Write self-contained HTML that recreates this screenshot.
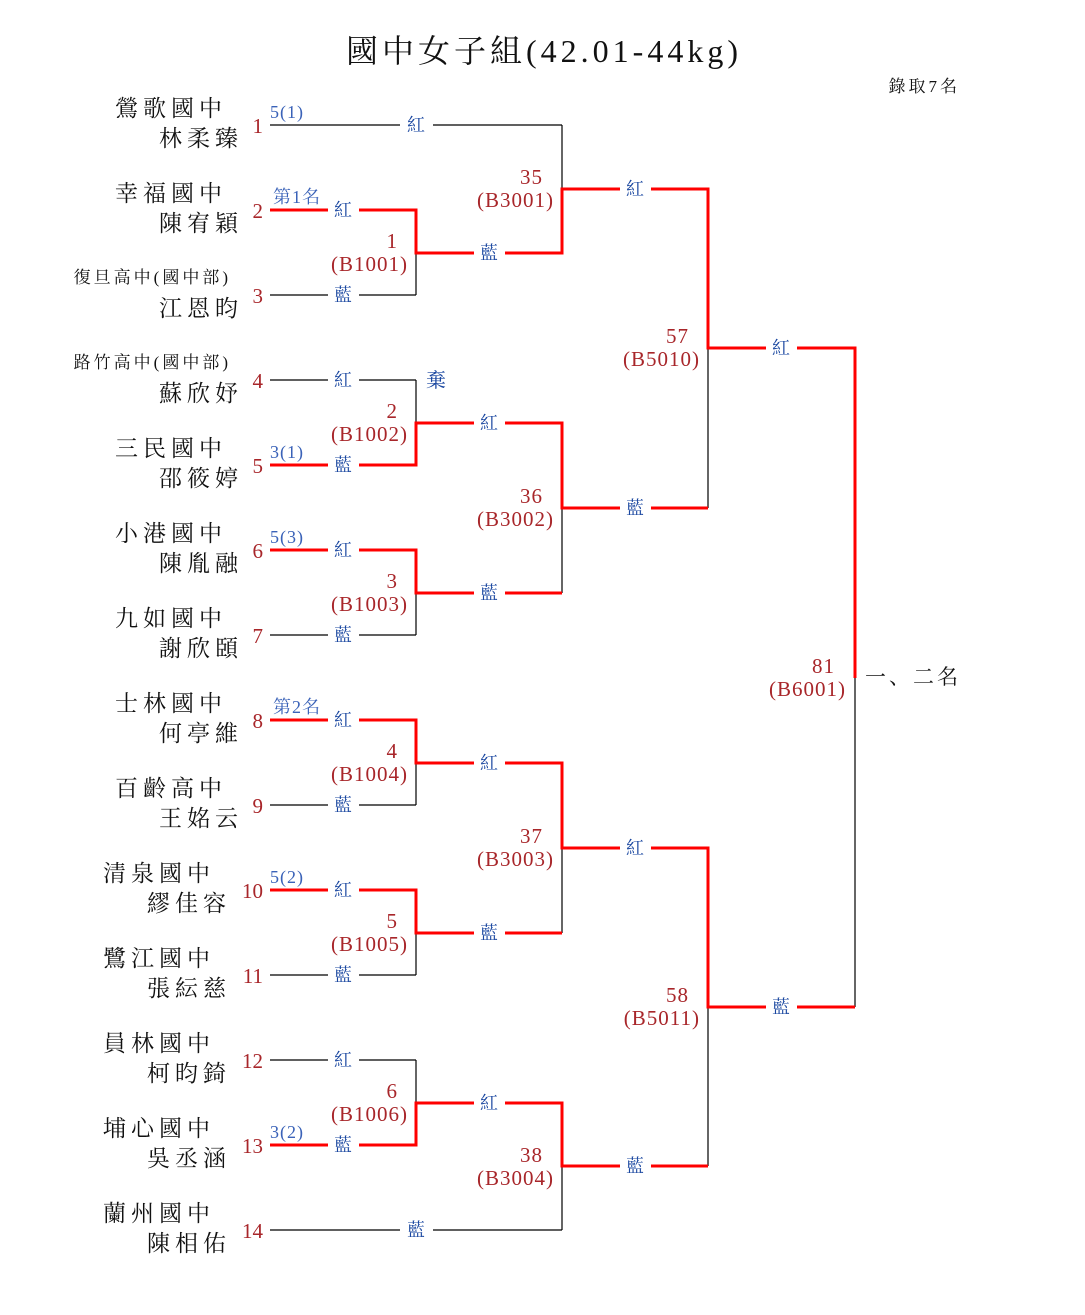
<!DOCTYPE html>
<html><head><meta charset="utf-8"><style>
html,body{margin:0;padding:0;background:#fff;}
svg{display:block;}
text{font-family:"Liberation Serif","Noto Serif CJK SC",serif;}
.sch{font-size:23px;letter-spacing:5px;fill:#111;}
.sm{font-size:17px;letter-spacing:3px;fill:#111;}
.num{font-size:21px;fill:#a8262a;}
.seed{font-size:18px;letter-spacing:1px;fill:#3a62b8;}
.lb{font-size:18px;fill:#1a47a0;}
.mt{font-size:21px;letter-spacing:1px;fill:#a8262a;}
</style></head><body>
<svg width="1085" height="1315" viewBox="0 0 1085 1315" xmlns="http://www.w3.org/2000/svg">
<text x="544" y="62" text-anchor="middle" font-size="32" letter-spacing="4" fill="#111">國中女子組(42.01-44kg)</text>
<text x="960" y="92" text-anchor="end" font-size="17" letter-spacing="3" fill="#111">錄取7名</text>

<g stroke="#000" stroke-width="1.2" fill="none">
<path d="M270 125H562 M270 295H416 M270 380H416 M270 635H416 M270 805H416 M270 975H416 M270 1060H416 M270 1230H562"/>
<path d="M416 253V295 M416 380V423 M416 593V635 M416 763V805 M416 933V975 M416 1060V1103"/>
<path d="M562 125V189 M562 508V593 M562 848V933 M562 1166V1230"/>
<path d="M708 348V508 M708 1007V1166 M855 678V1007"/>
</g>
<g stroke="#ff0000" stroke-width="3" fill="none" stroke-linejoin="miter">
<path d="M270 210H416V253H562V189H708V348H855V678"/>
<path d="M270 465H416V423H562V508H708"/>
<path d="M270 550H416V593H562"/>
<path d="M270 720H416V763H562V848H708V1007H855"/>
<path d="M270 890H416V933H562"/>
<path d="M270 1145H416V1103H562V1166H708"/>
</g>

<g fill="#fff">
<rect x="400" y="113" width="33" height="24"/>
<rect x="400" y="1218" width="33" height="24"/>
<rect x="328" y="198" width="31" height="24"/><rect x="328" y="283" width="31" height="24"/>
<rect x="328" y="368" width="31" height="24"/><rect x="328" y="453" width="31" height="24"/>
<rect x="328" y="538" width="31" height="24"/><rect x="328" y="623" width="31" height="24"/>
<rect x="328" y="708" width="31" height="24"/><rect x="328" y="793" width="31" height="24"/>
<rect x="328" y="878" width="31" height="24"/><rect x="328" y="963" width="31" height="24"/>
<rect x="328" y="1048" width="31" height="24"/><rect x="328" y="1133" width="31" height="24"/>
<rect x="474" y="241" width="31" height="24"/><rect x="474" y="411" width="31" height="24"/>
<rect x="474" y="581" width="31" height="24"/><rect x="474" y="751" width="31" height="24"/>
<rect x="474" y="921" width="31" height="24"/><rect x="474" y="1091" width="31" height="24"/>
<rect x="620" y="177" width="31" height="24"/><rect x="620" y="496" width="31" height="24"/>
<rect x="620" y="836" width="31" height="24"/><rect x="620" y="1154" width="31" height="24"/>
<rect x="766" y="336" width="31" height="24"/><rect x="766" y="995" width="31" height="24"/>
</g>

<g class="lb" text-anchor="middle">
<text x="416" y="131">紅</text><text x="416" y="1236">藍</text>
<text x="343" y="216">紅</text><text x="343" y="301">藍</text>
<text x="343" y="386">紅</text><text x="343" y="471">藍</text>
<text x="343" y="556">紅</text><text x="343" y="641">藍</text>
<text x="343" y="726">紅</text><text x="343" y="811">藍</text>
<text x="343" y="896">紅</text><text x="343" y="981">藍</text>
<text x="343" y="1066">紅</text><text x="343" y="1151">藍</text>
<text x="489" y="259">藍</text><text x="489" y="429">紅</text>
<text x="489" y="599">藍</text><text x="489" y="769">紅</text>
<text x="489" y="939">藍</text><text x="489" y="1109">紅</text>
<text x="635" y="195">紅</text><text x="635" y="514">藍</text>
<text x="635" y="854">紅</text><text x="635" y="1172">藍</text>
<text x="781" y="354">紅</text><text x="781" y="1013">藍</text>
</g>
<text x="436" y="387" font-size="20" fill="#1a47a0" text-anchor="middle">棄</text>

<g class="seed">
<text x="270" y="118">5(1)</text>
<text x="273" y="203">第1名</text>
<text x="270" y="458">3(1)</text>
<text x="270" y="543">5(3)</text>
<text x="273" y="713">第2名</text>
<text x="270" y="883">5(2)</text>
<text x="270" y="1138">3(2)</text>
</g>

<g class="num" text-anchor="end">
<text x="263" y="133">1</text><text x="263" y="218">2</text><text x="263" y="303">3</text>
<text x="263" y="388">4</text><text x="263" y="473">5</text><text x="263" y="558">6</text>
<text x="263" y="643">7</text><text x="263" y="728">8</text><text x="263" y="813">9</text>
<text x="263" y="898">10</text><text x="263" y="983">11</text><text x="263" y="1068">12</text>
<text x="263" y="1153">13</text><text x="263" y="1238">14</text>
</g>

<g class="mt" text-anchor="end">
<text x="398" y="248">1</text><text x="408" y="271">(B1001)</text>
<text x="398" y="418">2</text><text x="408" y="441">(B1002)</text>
<text x="398" y="588">3</text><text x="408" y="611">(B1003)</text>
<text x="398" y="758">4</text><text x="408" y="781">(B1004)</text>
<text x="398" y="928">5</text><text x="408" y="951">(B1005)</text>
<text x="398" y="1098">6</text><text x="408" y="1121">(B1006)</text>
<text x="543" y="184">35</text><text x="554" y="207">(B3001)</text>
<text x="543" y="503">36</text><text x="554" y="526">(B3002)</text>
<text x="543" y="843">37</text><text x="554" y="866">(B3003)</text>
<text x="543" y="1162">38</text><text x="554" y="1185">(B3004)</text>
<text x="689" y="343">57</text><text x="700" y="366">(B5010)</text>
<text x="689" y="1002">58</text><text x="700" y="1025">(B5011)</text>
<text x="835" y="673">81</text><text x="846" y="696">(B6001)</text>
</g>
<text x="865" y="684" font-size="21" letter-spacing="3" fill="#111">一、二名</text>

<g class="sch" text-anchor="end">
<text x="227" y="116">鶯歌國中</text><text x="243" y="146">林柔臻</text>
<text x="227" y="201">幸福國中</text><text x="243" y="231">陳宥穎</text>
<text x="243" y="316">江恩昀</text>
<text x="243" y="401">蘇欣妤</text>
<text x="227" y="456">三民國中</text><text x="243" y="486">邵筱婷</text>
<text x="227" y="541">小港國中</text><text x="243" y="571">陳胤融</text>
<text x="227" y="626">九如國中</text><text x="243" y="656">謝欣頣</text>
<text x="227" y="711">士林國中</text><text x="243" y="741">何亭維</text>
<text x="227" y="796">百齡高中</text><text x="243" y="826">王姳云</text>
<text x="215" y="881">清泉國中</text><text x="231" y="911">繆佳容</text>
<text x="215" y="966">鷺江國中</text><text x="231" y="996">張紜慈</text>
<text x="215" y="1051">員林國中</text><text x="231" y="1081">柯昀錡</text>
<text x="215" y="1136">埔心國中</text><text x="231" y="1166">吳丞涵</text>
<text x="215" y="1221">蘭州國中</text><text x="231" y="1251">陳相佑</text>
</g>
<g class="sm" text-anchor="end">
<text x="231" y="283">復旦高中(國中部)</text>
<text x="231" y="368">路竹高中(國中部)</text>
</g>
</svg>
</body></html>
